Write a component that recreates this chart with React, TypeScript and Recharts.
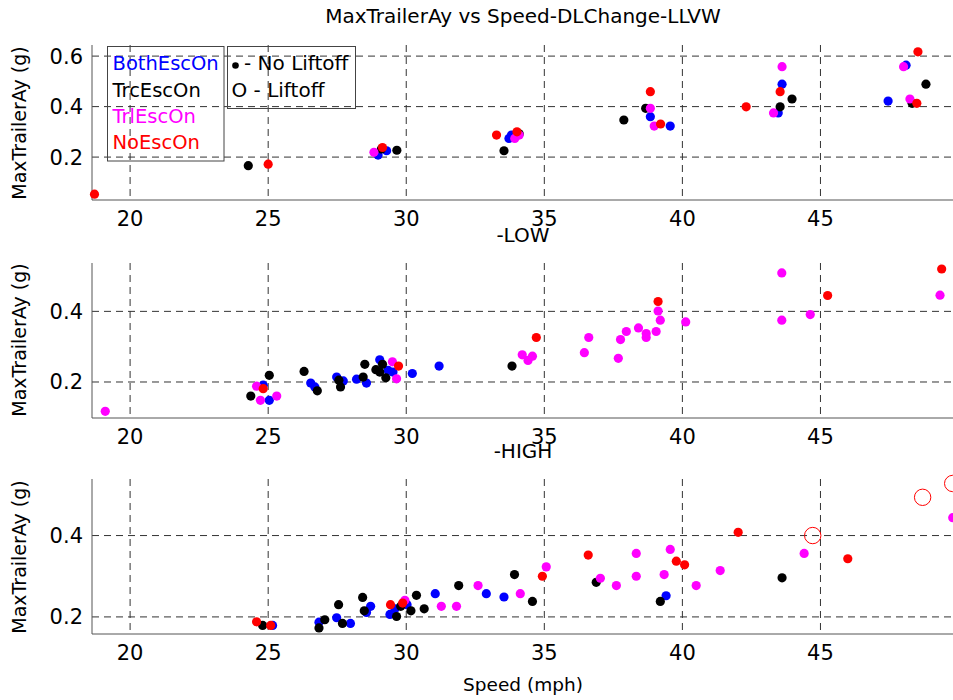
import React from 'react';
import { ScatterChart, Scatter, XAxis, YAxis, CartesianGrid } from 'recharts';

// [speed (mph), max trailer Ay (g)]
type Pt = [number, number];

const speedTicks = [20, 25, 30, 35, 40, 45];
const speedDomain: [number, number] = [18.62, 49.8];

// top panel (no subtitle)
const topBoth: Pt[] = [[28.98, 0.208], [29.29, 0.225], [33.72, 0.274], [33.81, 0.287], [38.84, 0.36], [39.56, 0.323], [43.47, 0.375], [43.61, 0.489], [47.45, 0.422], [48.1, 0.564]];
const topTrc: Pt[] = [[24.28, 0.166], [29.1, 0.232], [29.66, 0.227], [33.54, 0.225], [34.09, 0.292], [37.88, 0.347], [38.67, 0.393], [43.54, 0.399], [43.97, 0.43], [48.32, 0.413], [48.82, 0.489]];
const topTrl: Pt[] = [[28.83, 0.219], [33.93, 0.274], [34.09, 0.287], [38.84, 0.393], [38.98, 0.323], [43.3, 0.375], [43.61, 0.558], [48.01, 0.558], [48.24, 0.43]];
const topNo: Pt[] = [[18.71, 0.053], [25.0, 0.172], [29.14, 0.238], [33.27, 0.287], [34.01, 0.3], [38.84, 0.459], [39.21, 0.331], [42.31, 0.399], [43.54, 0.459], [48.49, 0.413], [48.53, 0.617]];

// -LOW
const lowBoth: Pt[] = [[24.82, 0.191], [25.04, 0.148], [26.54, 0.197], [26.69, 0.186], [27.48, 0.214], [27.72, 0.203], [28.2, 0.208], [28.56, 0.197], [29.04, 0.263], [29.34, 0.233], [29.52, 0.228], [30.22, 0.224], [31.19, 0.245]];
const lowTrc: Pt[] = [[24.37, 0.16], [25.04, 0.219], [26.3, 0.23], [26.78, 0.175], [27.56, 0.205], [27.62, 0.186], [28.44, 0.214], [28.5, 0.25], [28.9, 0.235], [29.04, 0.228], [29.14, 0.25], [29.26, 0.212], [33.83, 0.245]];
const lowTrl: Pt[] = [[19.1, 0.117], [24.58, 0.188], [24.72, 0.148], [25.31, 0.16], [29.5, 0.257], [29.65, 0.209], [34.2, 0.277], [34.41, 0.261], [34.57, 0.273], [36.45, 0.283], [36.61, 0.326], [37.68, 0.267], [37.76, 0.32], [37.97, 0.343], [38.41, 0.353], [38.69, 0.337], [38.69, 0.326], [39.05, 0.343], [39.12, 0.401], [39.2, 0.375], [40.12, 0.37], [43.6, 0.509], [43.6, 0.375], [44.63, 0.391], [49.33, 0.446]];
const lowNo: Pt[] = [[24.82, 0.181], [29.72, 0.245], [34.71, 0.326], [39.12, 0.428], [45.26, 0.445], [49.39, 0.52]];

// -HIGH
const highBoth: Pt[] = [[25.16, 0.179], [26.84, 0.187], [27.48, 0.198], [27.98, 0.184], [28.56, 0.211], [28.71, 0.226], [29.41, 0.206], [29.59, 0.22], [30.03, 0.23], [31.05, 0.257], [32.9, 0.257], [33.54, 0.249], [39.41, 0.252]];
const highTrc: Pt[] = [[24.8, 0.179], [26.84, 0.173], [27.05, 0.193], [27.55, 0.23], [27.69, 0.184], [28.42, 0.248], [28.48, 0.215], [29.65, 0.201], [29.8, 0.226], [30.17, 0.215], [30.37, 0.253], [30.65, 0.22], [31.9, 0.277], [33.92, 0.304], [34.57, 0.238], [36.88, 0.285], [39.2, 0.238], [43.61, 0.296]];
const highTrl: Pt[] = [[29.95, 0.241], [31.27, 0.226], [31.82, 0.226], [32.6, 0.277], [34.13, 0.257], [35.07, 0.323], [37.03, 0.295], [37.61, 0.277], [38.33, 0.356], [38.33, 0.3], [39.34, 0.304], [39.56, 0.366], [40.5, 0.277], [41.37, 0.314], [44.41, 0.356], [49.79, 0.444]];
const highNo: Pt[] = [[24.58, 0.188], [25.09, 0.179], [29.43, 0.23], [29.87, 0.234], [34.93, 0.3], [36.59, 0.352], [39.78, 0.337], [40.08, 0.328], [42.02, 0.408], [45.99, 0.343]];
const highNoLiftoff: Pt[] = [[44.72, 0.4], [48.7, 0.494], [49.79, 0.528]];

const FONT = '"DejaVu Sans", sans-serif';
const BLUE = '#0000ff';
const MAGENTA = '#ff00ff';
const RED = '#ff0000';
const BLACK = '#000000';

const toXY = (pts: Pt[]) => pts.map(([x, y]) => ({ x, y }));

const Dot = (props: any) => <circle cx={props.cx} cy={props.cy} r={4.6} fill={props.fill} />;
const Ring = (props: any) => <circle cx={props.cx} cy={props.cy} r={8.2} fill="none" stroke={RED} strokeWidth={1} />;

interface PanelProps {
  top: number;
  yDomain: [number, number];
  yTicks: number[];
  both: Pt[];
  trc: Pt[];
  trl: Pt[];
  no: Pt[];
  liftoff?: Pt[];
}

const Panel: React.FC<PanelProps> = ({ top, yDomain, yTicks, both, trc, trl, no, liftoff }) => (
  <div style={{ position: 'absolute', left: 0, top }}>
    <ScatterChart width={953} height={235} margin={{ top: 45, right: 0, bottom: 5, left: 0 }}>
      <CartesianGrid
        stroke="#333"
        strokeDasharray="7 5"
        horizontalValues={yTicks}
        verticalValues={speedTicks}
      />
      <XAxis
        type="number"
        dataKey="x"
        domain={speedDomain}
        ticks={speedTicks}
        height={30}
        tickSize={0}
        tickMargin={11}
        axisLine={{ stroke: '#555' }}
        tick={{ fontSize: 21, fill: '#000', fontFamily: FONT }}
      />
      <YAxis
        type="number"
        dataKey="y"
        domain={yDomain}
        ticks={yTicks}
        width={92}
        tickSize={0}
        tickMargin={9}
        axisLine={{ stroke: '#555' }}
        tickFormatter={(v: number) => v.toFixed(1)}
        tick={{ fontSize: 21, fill: '#000', fontFamily: FONT }}
      />
      <Scatter data={toXY(both)} fill={BLUE} shape={Dot} isAnimationActive={false} />
      <Scatter data={toXY(trc)} fill={BLACK} shape={Dot} isAnimationActive={false} />
      <Scatter data={toXY(trl)} fill={MAGENTA} shape={Dot} isAnimationActive={false} />
      <Scatter data={toXY(no)} fill={RED} shape={Dot} isAnimationActive={false} />
      {liftoff && <Scatter data={toXY(liftoff)} fill="none" shape={Ring} isAnimationActive={false} />}
    </ScatterChart>
  </div>
);

const App: React.FC = () => {
  const txt = { fontFamily: FONT, fill: '#000' };
  return (
    <div style={{ position: 'absolute', left: 0, top: 0, width: 953, height: 700, background: '#fff', overflow: 'hidden' }}>
      <Panel top={0} yDomain={[0.03, 0.644]} yTicks={[0.2, 0.4, 0.6]} both={topBoth} trc={topTrc} trl={topTrl} no={topNo} />
      <Panel top={218} yDomain={[0.098, 0.537]} yTicks={[0.2, 0.4]} both={lowBoth} trc={lowTrc} trl={lowTrl} no={lowNo} />
      <Panel top={434} yDomain={[0.158, 0.539]} yTicks={[0.2, 0.4]} both={highBoth} trc={highTrc} trl={highTrl} no={highNo} liftoff={highNoLiftoff} />

      {/* titles, axis labels and the two legend boxes */}
      <svg width={953} height={700} style={{ position: 'absolute', left: 0, top: 0, pointerEvents: 'none' }}>
        <text x={523} y={23} textAnchor="middle" fontSize={20} {...txt}>MaxTrailerAy vs Speed-DLChange-LLVW</text>
        <text x={523} y={242} textAnchor="middle" fontSize={20} {...txt}>-LOW</text>
        <text x={523} y={458} textAnchor="middle" fontSize={20} {...txt}>-HIGH</text>
        <text x={523} y={691} textAnchor="middle" fontSize={18.5} {...txt}>Speed (mph)</text>
        {[123, 340, 557].map((cy) => (
          <text key={cy} x={26} y={cy} transform={`rotate(-90 26 ${cy})`} textAnchor="middle" fontSize={19} {...txt}>
            MaxTrailerAy (g)
          </text>
        ))}

        <rect x={107.5} y={46.5} width={116.5} height={114.5} fill="none" stroke="#444" strokeWidth={1} />
        <text x={112.5} y={70} fontSize={19.5} fontFamily={FONT} fill={BLUE}>BothEscOn</text>
        <text x={112.5} y={96.7} fontSize={19.5} fontFamily={FONT} fill={BLACK}>TrcEscOn</text>
        <text x={112.5} y={122.7} fontSize={19.5} fontFamily={FONT} fill={MAGENTA}>TrlEscOn</text>
        <text x={112.5} y={149.3} fontSize={19.5} fontFamily={FONT} fill={RED}>NoEscOn</text>

        <rect x={227.5} y={46.5} width={128} height={62} fill="none" stroke="#444" strokeWidth={1} />
        <circle cx={235.5} cy={65.5} r={3.3} fill={BLACK} />
        <text x={244} y={70} fontSize={20} {...txt}>- No Liftoff</text>
        <text x={231.5} y={96.7} fontSize={20} {...txt}>O - Liftoff</text>
      </svg>
    </div>
  );
};

export default App;
